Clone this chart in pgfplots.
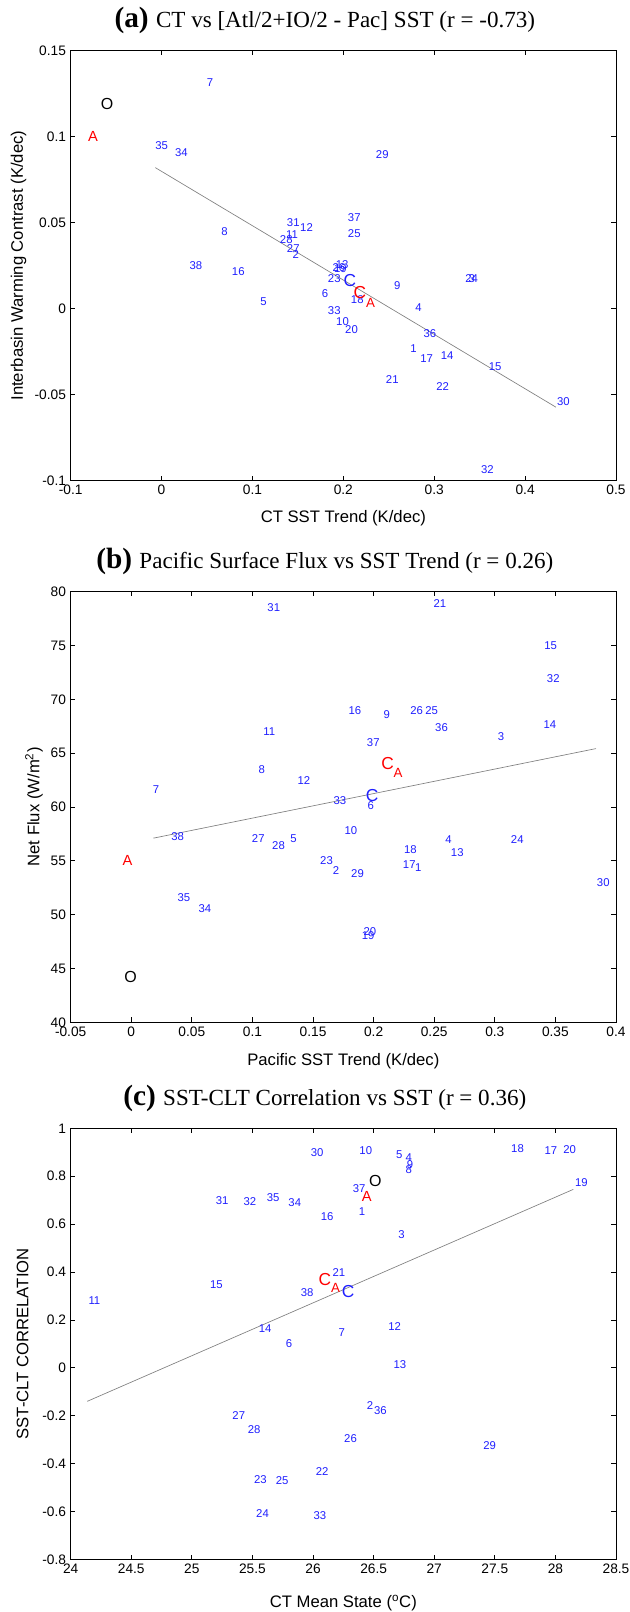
\documentclass[border=0pt]{standalone}
\usepackage{fontspec}
\setmainfont{Liberation Sans}
\newfontfamily\titlefont{Liberation Serif}
\usepackage{pgfplots}
\pgfplotsset{compat=1.18}
\definecolor{lblblue}{rgb}{0.12,0.12,1}
\definecolor{regline}{rgb}{0.5,0.5,0.5}

\pgfplotstableread{
x y label
0.2734 -0.0230 1
0.1439 0.0316 2
0.3375 0.0177 3
0.2789 0.0006 4
0.1083 0.0041 5
0.1762 0.0085 6
0.0496 0.1316 7
0.0654 0.0446 8
0.2557 0.0134 9
0.1919 -0.0077 10
0.1369 0.0428 11
0.1523 0.0473 12
0.1915 0.0255 13
0.3071 -0.0275 14
0.3599 -0.0337 15
0.0772 0.0215 16
0.2844 -0.0288 17
0.2081 0.0055 18
0.1895 0.0235 19
0.2018 -0.0124 20
0.2466 -0.0410 21
0.3020 -0.0453 22
0.1828 0.0174 23
0.3339 0.0173 24
0.2048 0.0438 25
0.1880 0.0240 26
0.1377 0.0351 27
0.1300 0.0400 28
0.2356 0.0894 29
0.4348 -0.0538 30
0.1377 0.0502 31
0.3512 -0.0934 32
0.1828 -0.0013 33
0.0146 0.0907 34
-0.0072 0.0946 35
0.2880 -0.0147 36
0.2048 0.0531 37
0.0305 0.0250 38
}\tableA

\pgfplotstableread{
x y label
0.2341 54.32 1
0.1662 54.10 2
0.3024 66.54 3
0.2589 56.95 4
0.1310 57.07 5
0.1948 60.13 6
0.0177 61.65 7
0.1048 63.51 8
0.2080 68.62 9
0.1758 57.78 10
0.1089 67.00 11
0.1370 62.45 12
0.2636 55.77 13
0.3400 67.69 14
0.3406 74.96 15
0.1791 68.92 16
0.2240 54.62 17
0.2250 56.02 18
0.1901 48.03 19
0.1915 48.43 20
0.2492 78.92 21
0.1557 55.00 23
0.3131 56.95 24
0.2424 68.95 25
0.2300 68.95 26
0.0994 57.07 27
0.1161 56.45 28
0.1813 53.85 29
0.3841 52.93 30
0.1122 78.51 31
0.3428 71.89 32
0.1667 60.57 33
0.0553 50.57 34
0.0380 51.62 35
0.2506 67.37 36
0.1943 65.98 37
0.0328 57.25 38
}\tableB

\pgfplotstableread{
x y label
26.376 0.652 1
26.442 -0.159 2
26.703 0.558 3
26.761 0.879 4
26.684 0.891 5
25.774 0.099 6
26.208 0.148 7
26.761 0.826 8
26.772 0.847 9
26.381 0.905 10
24.145 0.280 11
26.620 0.171 12
26.662 0.015 13
25.551 0.165 14
25.149 0.348 15
26.063 0.632 16
27.908 0.909 17
27.633 0.914 18
28.161 0.773 19
28.064 0.912 20
26.159 0.398 21
26.021 -0.434 22
25.512 -0.466 23
25.529 -0.610 24
25.691 -0.469 25
26.255 -0.295 26
25.333 -0.200 27
25.460 -0.259 28
27.404 -0.327 29
25.980 0.898 30
25.196 0.698 31
25.424 0.695 32
26.002 -0.618 33
25.795 0.689 34
25.617 0.709 35
26.502 -0.180 36
26.327 0.749 37
25.898 0.313 38
}\tableC

\pgfplotsset{
  panel/.style={
    scale only axis, width=409pt,
    clip=false,
    axis line style={line width=0.6pt},
    every tick/.style={line width=0.6pt, black},
    tick align=inside, major tick length=3.6pt,
    tick label style={font=\fontsize{10.3}{12}\selectfont},
    label style={font=\fontsize{12.5}{14}\selectfont},
    title style={at={(axis description cs:0.466,1.035)}, anchor=base},
  },
  labs/.style n args={2}{only marks, mark=none, nodes near coords,
    point meta=explicit symbolic,
    every node near coord/.append style={anchor=west, inner sep=0pt, font=#2, text=#1}},
}
\newcommand{\lblfont}{\fontsize{8.5}{9}\selectfont}
\newcommand{\bigC}{\fontsize{13}{14}\selectfont}
\newcommand{\bigO}{\fontsize{12}{14}\selectfont}
\newcommand{\bigA}{\fontsize{11}{13}\selectfont}
\newcommand{\subA}{\fontsize{10}{12}\selectfont}
\newcommand{\ttl}[2]{\titlefont\fontsize{22}{24}\selectfont\bfseries #1 \mdseries\fontsize{17.3}{20}\selectfont #2}

\begin{document}
\begin{tikzpicture}
\useasboundingbox (0,0) rectangle (471.75pt,-1209pt);

% ---------------- (a)
\begin{axis}[panel, height=322.5pt,
  at={(53pt,-360.5pt)}, anchor=south west,
  xmin=-0.1, xmax=0.5, ymin=-0.1, ymax=0.15,
  xtick={-0.1,0,0.1,0.2,0.3,0.4,0.5},
  xticklabels={-0.1,0,0.1,0.2,0.3,0.4,0.5},
  ytick={-0.1,-0.05,0,0.05,0.1,0.15},
  yticklabels={-0.1,-0.05,0,0.05,0.1,0.15},
  xlabel={CT SST Trend (K/dec)},
  ylabel={Interbasin Warming Contrast (K/dec)},
  xlabel style={at={(axis description cs:0.5,-0.0977)}, anchor=base},
  ylabel style={at={(axis description cs:-0.0957,0.5)}, anchor=center, rotate=0},
  title={\ttl{(a)}{CT vs [Atl/2+IO/2 - Pac] SST (r = -0.73)}},
]
\addplot[regline, line width=0.5pt] coordinates {(-0.0069,0.082) (0.434,-0.0573)};
\addplot[labs={lblblue}{\lblfont}] table[x=x, y=y, meta=label] {\tableA};
\addplot[labs={lblblue}{\bigC}] table[meta=label] {
x y label
0.200 0.0163 C
};
\addplot[labs={red}{\bigC}] table[meta=label] {
x y label
0.211 0.0093 C
};
\addplot[labs={red}{\bigA}] table[meta=label] {
x y label
-0.081 0.1004 A
};
\addplot[labs={red}{\subA}] table[meta=label] {
x y label
0.2249 0.0035 A
};
\addplot[labs={black}{\bigO}] table[meta=label] {
x y label
-0.067 0.119 O
};
\end{axis}

% ---------------- (b)
\begin{axis}[panel, height=323pt,
  at={(53pt,-766.7pt)}, anchor=south west,
  xmin=-0.05, xmax=0.4, ymin=40, ymax=80,
  xtick={-0.05,0,0.05,0.1,0.15,0.2,0.25,0.3,0.35,0.4},
  xticklabels={-0.05,0,0.05,0.1,0.15,0.2,0.25,0.3,0.35,0.4},
  ytick={40,45,50,55,60,65,70,75,80},
  yticklabels={40,45,50,55,60,65,70,75,80},
  xlabel={Pacific SST Trend (K/dec)},
  ylabel={Net Flux (W/m\textsuperscript{2})},
  xlabel style={at={(axis description cs:0.5,-0.1015)}, anchor=base},
  ylabel style={at={(axis description cs:-0.0672,0.5)}, anchor=center, rotate=0},
  title={\ttl{(b)}{Pacific Surface Flux vs SST Trend (r = 0.26)}},
]
\addplot[regline, line width=0.5pt] coordinates {(0.0182,57.1) (0.3835,65.42)};
\addplot[labs={lblblue}{\lblfont}] table[x=x, y=y, meta=label] {\tableB};
\addplot[labs={lblblue}{\bigC}] table[meta=label] {
x y label
0.1934 61.03 C
};
\addplot[labs={red}{\bigC}] table[meta=label] {
x y label
0.2061 64.0 C
};
\addplot[labs={red}{\subA}] table[meta=label] {
x y label
0.2162 63.14 A
};
\addplot[labs={red}{\bigA}] table[meta=label] {
x y label
-0.0074 55.02 A
};
\addplot[labs={black}{\bigO}] table[meta=label] {
x y label
-0.0058 44.25 O
};
\end{axis}

% ---------------- (c)
\begin{axis}[panel, height=323.25pt,
  at={(53pt,-1169.5pt)}, anchor=south west,
  xmin=24, xmax=28.5, ymin=-0.8, ymax=1,
  xtick={24,24.5,25,25.5,26,26.5,27,27.5,28,28.5},
  xticklabels={24,24.5,25,25.5,26,26.5,27,27.5,28,28.5},
  ytick={-0.8,-0.6,-0.4,-0.2,0,0.2,0.4,0.6,0.8,1},
  yticklabels={-0.8,-0.6,-0.4,-0.2,0,0.2,0.4,0.6,0.8,1},
  xlabel={CT Mean State (\textsuperscript{o}C)},
  ylabel={SST-CLT CORRELATION},
  xlabel style={at={(axis description cs:0.5,-0.1123)}, anchor=base},
  ylabel style={at={(axis description cs:-0.0882,0.5)}, anchor=center, rotate=0},
  title={\ttl{(c)}{SST-CLT Correlation vs SST (r = 0.36)}},
]
\addplot[regline, line width=0.5pt] coordinates {(24.137,-0.140) (28.147,0.745)};
\addplot[labs={lblblue}{\lblfont}] table[x=x, y=y, meta=label] {\tableC};
\addplot[labs={lblblue}{\bigC}] table[meta=label] {
x y label
26.236 0.317 C
};
\addplot[labs={red}{\bigC}] table[meta=label] {
x y label
26.043 0.369 C
};
\addplot[labs={red}{\subA}] table[meta=label] {
x y label
26.148 0.332 A
};
\addplot[labs={red}{\bigA}] table[meta=label] {
x y label
26.401 0.717 A
};
\addplot[labs={black}{\bigO}] table[meta=label] {
x y label
26.461 0.781 O
};
\end{axis}
\end{tikzpicture}
\end{document}
